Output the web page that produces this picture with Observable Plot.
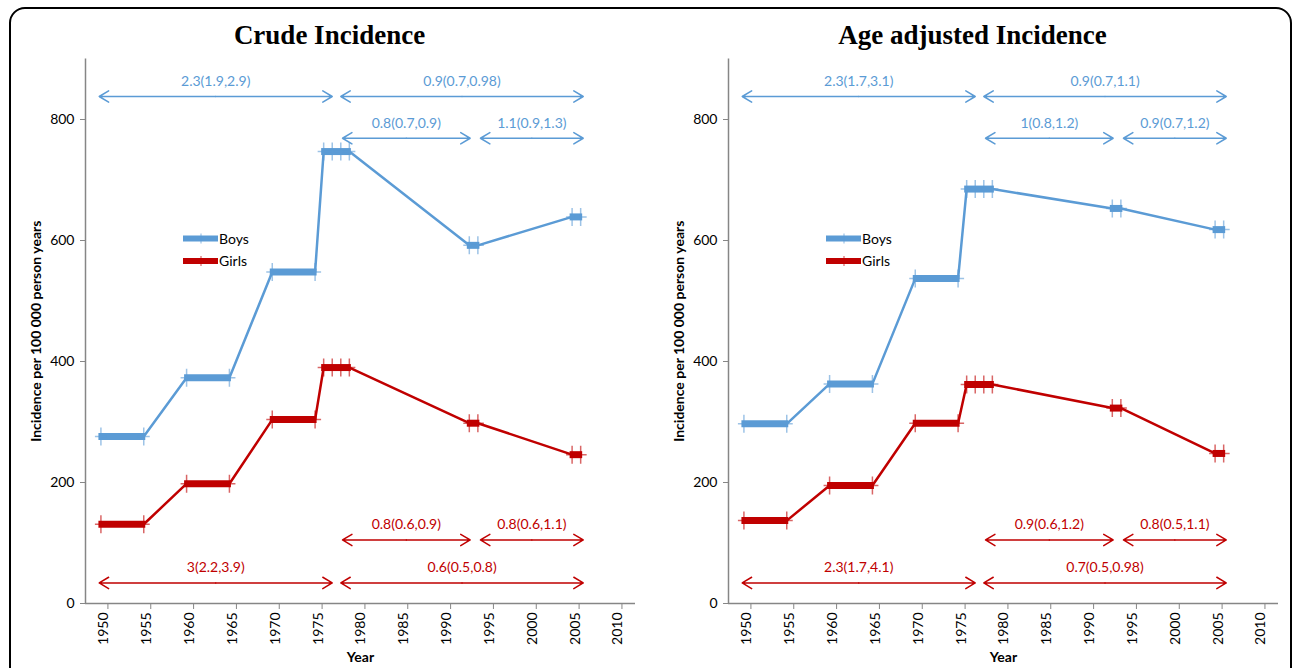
<!DOCTYPE html>
<html>
<head>
<meta charset="utf-8">
<script src="https://cdn.jsdelivr.net/npm/d3@7"></script>
<script src="https://cdn.jsdelivr.net/npm/@observablehq/plot@0.6"></script>
<style>
  body { margin: 0; background: #fff; }
  #fig { position: relative; width: 1295px; height: 668px; overflow: hidden; background: #fff; }
  #frame { position: absolute; left: 9px; top: 7px; width: 1283px; height: 720px;
           border: 2px solid #000; border-radius: 16px; box-sizing: border-box;
           pointer-events: none; z-index: 5; }
  .panel { position: absolute; top: 0; }
  .panel svg { background: transparent !important; }
</style>
</head>
<body>
<div id="fig"><div id="frame"></div></div>
<script>
// ---- data ----
const years = [1950, 1955, 1960, 1965, 1970, 1975, 1980, 1985, 1990, 1995, 2000, 2005, 2010];
const yTicks = [0, 200, 400, 600, 800];
const sexes = ["Boys", "Girls"];

// study periods (first and last calendar year of each period)
const periodStart = [1950, 1960, 1970, 1976, 1993, 2005];
const periodEnd   = [1955, 1965, 1975, 1979, 1994, 2006];

// incidence per 100 000 person years, one value per period
const crudeBoys     = [276, 373, 548, 747, 592, 639];
const crudeGirls    = [131, 198, 304, 390, 298, 246];
const adjustedBoys  = [297, 363, 537, 685, 653, 618];
const adjustedGirls = [137, 195, 298, 362, 323, 248];

// rate-ratio intervals: whole span before / after 1977, and the later split
const spanFrom  = [1949.8, 1978.0];
const spanTo    = [1977.0, 2006.3];
const splitFrom = [1978.2, 1994.3];
const splitTo   = [1993.1, 2006.3];

// rate ratios (95% CI)
const crudeBoysSpan   = ["2.3(1.9,2.9)", "0.9(0.7,0.98)"];
const crudeBoysSplit  = ["0.8(0.7,0.9)", "1.1(0.9,1.3)"];
const crudeGirlsSplit = ["0.8(0.6,0.9)", "0.8(0.6,1.1)"];
const crudeGirlsSpan  = ["3(2.2,3.9)", "0.6(0.5,0.8)"];
const adjBoysSpan     = ["2.3(1.7,3.1)", "0.9(0.7,1.1)"];
const adjBoysSplit    = ["1(0.8,1.2)", "0.9(0.7,1.2)"];
const adjGirlsSplit   = ["0.9(0.6,1.2)", "0.8(0.5,1.1)"];
const adjGirlsSpan    = ["2.3(1.7,4.1)", "0.7(0.5,0.98)"];

// ---- drawing ----
const BLUE = "#5B9BD5";
const RED = "#C00000";
const AXIS = "#868686";
const FONT = "Lato, 'Open Sans', sans-serif";
const xDomain = [1948.2, 2012.4];

// "+" marker: taller than wide
const plusSymbol = {
  draw(ctx) {
    ctx.moveTo(0, -9); ctx.lineTo(0, 9);
    ctx.moveTo(-6, 0); ctx.lineTo(6, 0);
  }
};

function panel({title, boys, girls, rows}) {
  const series = [{sex: "Boys", values: boys}, {sex: "Girls", values: girls}];

  const pathPts = series.flatMap(s => periodStart.flatMap((st, i) => [
    {sex: s.sex, year: st, value: s.values[i]},
    {sex: s.sex, year: periodEnd[i], value: s.values[i]}
  ]));
  const bars = series.flatMap(s => periodStart.map((st, i) =>
    ({sex: s.sex, from: st, to: periodEnd[i], value: s.values[i]})));
  const markers = series.flatMap(s => periodStart.flatMap((st, i) => {
    const e = periodEnd[i];
    const ys = e - st <= 3 ? d3.range(st, e + 1) : [st, e];
    return ys.map(y => ({sex: s.sex, year: y, value: s.values[i]}));
  }));

  // one record per interval, plus arrow halves pointing outward from the middle
  const intervals = rows.flatMap(r => r.from.map((f, i) => ({
    sex: r.sex, level: r.level, from: f, to: r.to[i], mid: (f + r.to[i]) / 2, label: r.labels[i]
  })));
  const halves = intervals.flatMap(d => [
    {...d, end: d.from}, {...d, end: d.to}
  ]);

  const svg = Plot.plot({
    width: 647,
    height: 668,
    marginLeft: 85,
    marginRight: 12,
    marginTop: 58.5,
    marginBottom: 65,
    style: {fontFamily: FONT, fontSize: "14px", color: "#000", background: "transparent"},
    x: {domain: xDomain},
    y: {domain: [0, 900]},
    color: {domain: sexes, range: [BLUE, RED]},
    marks: [
      // axes
      Plot.axisY({ticks: yTicks, tickSize: 5, tickPadding: 6, label: null, stroke: AXIS, fill: "#000", fontSize: 14}),
      Plot.axisX({ticks: years, tickSize: 0, tickPadding: 9, tickRotate: -90, tickFormat: d => String(d),
                  label: null, dx: 3, fill: "#000", fontSize: 14}),
      Plot.axisX({ticks: years, tickSize: 6, tickFormat: () => "", label: null, dx: 7, stroke: AXIS}),
      Plot.ruleX([xDomain[0]], {stroke: AXIS, strokeWidth: 1.5}),
      Plot.ruleY([0], {stroke: AXIS, strokeWidth: 1.5}),

      // incidence series
      Plot.line(pathPts, {x: "year", y: "value", z: "sex", stroke: "sex", strokeWidth: 2.5}),
      Plot.ruleY(bars, {y: "value", x1: "from", x2: "to", stroke: "sex", strokeWidth: 7,
                        insetLeft: -2, insetRight: -2}),
      Plot.dot(markers, {x: "year", y: "value", stroke: "sex", fill: "none", symbol: plusSymbol,
                         strokeWidth: 1.5, strokeOpacity: 0.6}),

      // rate-ratio arrows and labels
      Plot.arrow(halves, {x1: "mid", x2: "end", y1: "level", y2: "level", stroke: "sex",
                          strokeWidth: 1.5, headLength: 11, headAngle: 62, bend: 0}),
      Plot.text(intervals, {x: "mid", y: "level", text: "label", fill: "sex", dy: -15, fontSize: 14}),

      // titles
      Plot.text([title], {frameAnchor: "top", dx: -31, dy: -34, fontSize: 27, fontWeight: "bold",
                          fontFamily: "'Liberation Serif', 'Times New Roman', serif", fill: "#000"}),
      Plot.text(["Incidence per 100 000 person years"], {frameAnchor: "left", textAnchor: "middle",
                          rotate: -90, dx: -49, fontSize: 14, fontWeight: "bold", fill: "#000"}),
      Plot.text(["Year"], {frameAnchor: "bottom", dy: 58, fontSize: 14, fontWeight: "bold", fill: "#000"})
    ]
  });

  // legend
  const g = d3.select(svg).append("g")
    .attr("font-family", FONT).attr("font-size", 14).attr("text-anchor", "start");
  const colors = [BLUE, RED];
  sexes.forEach((s, i) => {
    const y = 238.5 + i * 22.5;
    g.append("line").attr("x1", 183).attr("x2", 218).attr("y1", y).attr("y2", y)
      .attr("stroke", colors[i]).attr("stroke-width", 6);
    g.append("line").attr("x1", 201).attr("x2", 201).attr("y1", y - 5).attr("y2", y + 5)
      .attr("stroke", colors[i]).attr("stroke-width", 1.2).attr("stroke-opacity", 0.6);
    g.append("text").attr("x", 219).attr("y", y + 5).attr("fill", "#000").text(s);
  });
  return svg;
}

const crudeRows = [
  {sex: "Boys", level: 838, from: spanFrom, to: spanTo, labels: crudeBoysSpan},
  {sex: "Boys", level: 769, from: splitFrom, to: splitTo, labels: crudeBoysSplit},
  {sex: "Girls", level: 105, from: splitFrom, to: splitTo, labels: crudeGirlsSplit},
  {sex: "Girls", level: 34, from: spanFrom, to: spanTo, labels: crudeGirlsSpan}
];
const adjRows = [
  {sex: "Boys", level: 838, from: spanFrom, to: spanTo, labels: adjBoysSpan},
  {sex: "Boys", level: 769, from: splitFrom, to: splitTo, labels: adjBoysSplit},
  {sex: "Girls", level: 105, from: splitFrom, to: splitTo, labels: adjGirlsSplit},
  {sex: "Girls", level: 34, from: spanFrom, to: spanTo, labels: adjGirlsSpan}
];

const fig = document.getElementById("fig");
[
  {left: 0, svg: panel({title: "Crude Incidence", boys: crudeBoys, girls: crudeGirls, rows: crudeRows})},
  {left: 643, svg: panel({title: "Age adjusted Incidence", boys: adjustedBoys, girls: adjustedGirls, rows: adjRows})}
].forEach(({left, svg}) => {
  const div = document.createElement("div");
  div.className = "panel";
  div.style.left = left + "px";
  div.appendChild(svg);
  fig.appendChild(div);
});
</script>
</body>
</html>
